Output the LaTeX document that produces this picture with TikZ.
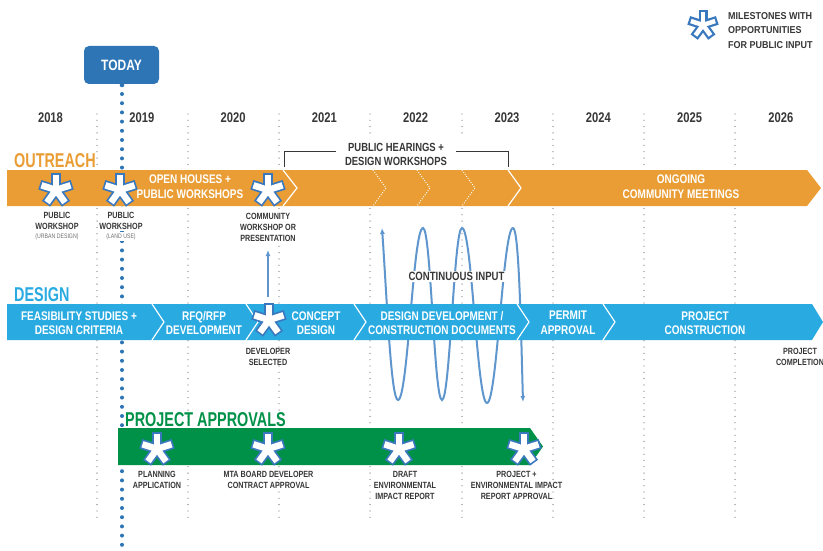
\documentclass[tikz,border=0pt]{standalone}
\usepackage{fontspec}
\newfontfamily\cond{Liberation Sans}[FakeStretch=0.8]
\newfontfamily\titlef{Liberation Sans}[FakeStretch=0.72]
\newfontfamily\legf{Liberation Sans}[FakeStretch=0.9]
\usetikzlibrary{arrows.meta}
\definecolor{orng}{RGB}{233,157,52}
\definecolor{dblue}{RGB}{41,171,226}
\definecolor{grn}{RGB}{0,145,72}
\definecolor{tblue}{RGB}{46,117,182}
\definecolor{ablue}{RGB}{58,120,190}
\definecolor{wblue}{RGB}{95,150,205}
\definecolor{txtgray}{RGB}{55,55,55}
\definecolor{subgray}{RGB}{110,110,110}
\definecolor{sepgray}{RGB}{125,125,125}
\tikzset{
  milestone/.pic={
    \foreach \a in {-90,-162,-234,-306,-18}{\draw[ablue,line width=10pt] (0,0) -- (\a:17);}
    \foreach \a in {-90,-162,-234,-306,-18}{\draw[white,line width=6.5pt] (0,0) -- (\a:15.3);}
  },
  milestonelegend/.pic={
    \foreach \a in {-90,-162,-234,-306,-18}{\draw[ablue,line width=9pt] (0,0) -- (\a:15);}
    \foreach \a in {-90,-162,-234,-306,-18}{\draw[white,line width=4.5pt] (0,0) -- (\a:12.8);}
  },
  sepline/.style={sepgray,line width=1.3pt,line cap=round,dash pattern=on 0pt off 6.3pt},
  todayline/.style={tblue,line width=4pt,line cap=round,dash pattern=on 0pt off 9.2pt},
  yr/.style={font=\cond\bfseries\fontsize{14}{14}\selectfont,text=txtgray,inner sep=0pt},
  sectitle/.style={font=\titlef\bfseries\fontsize{20}{20}\selectfont,anchor=west,inner sep=0pt},
  bartxt/.style={font=\cond\bfseries\fontsize{12.5}{14.5}\selectfont,text=white,align=center,inner sep=0pt},
  lbl/.style={font=\cond\bfseries\fontsize{9}{10.5}\selectfont,text=txtgray,align=center,inner sep=0pt},
  lblw/.style={lbl,font=\cond\bfseries\fontsize{9}{11}\selectfont},
  sublbl/.style={font=\cond\fontsize{6.5}{7}\selectfont,text=subgray,inner sep=0pt},
  chev/.style={white,line width=1.2pt},
  chevdot/.style={white,line width=0.9pt,dash pattern=on 1pt off 1.5pt},
  wave/.style={wblue,line width=2pt},
  bracket/.style={txtgray,line width=0.8pt},
}
\begin{document}
\begin{tikzpicture}[x=1pt,y=-1pt]
\useasboundingbox[fill=white] (0,0) rectangle (823,551);

% year separators
\foreach \x in {97,188,279,370,462,553,644,735}{
  \coordinate (st\x) at (\x,114);
  \coordinate (sb\x) at (\x,520);
  \draw[sepline] (st\x) -- (sb\x);
}

% today marker
\coordinate (tdtop) at (122,94);
\coordinate (tdbot) at (122,548);
\draw[todayline] (tdtop) -- (tdbot);
\fill[tblue] (122,85) circle (2.3);
\node[fill=tblue,rounded corners=5pt,minimum width=75pt,minimum height=38pt,inner sep=0pt,
      text=white,font=\cond\bfseries\fontsize{15}{15}\selectfont] (today) at (121.5,65) {TODAY};

% years
\foreach \yr [count=\i] in {2018,2019,2020,2021,2022,2023,2024,2025,2026}{
  \node[yr] (y\yr) at ({50.5+91.3*(\i-1)},118) {\yr};
}

% legend
\pic at (703,25) {milestonelegend};
\node[font=\legf\bfseries\fontsize{10}{14.5}\selectfont,text=txtgray,align=left,anchor=west,inner sep=0pt]
  (legend) at (728,30.5) {MILESTONES WITH\\OPPORTUNITIES\\FOR PUBLIC INPUT};

% section titles
\node[sectitle,text=orng] (outreach) at (14,160.5) {OUTREACH};
\node[sectitle,text=dblue] (design) at (14,295) {DESIGN};
\node[sectitle,text=grn] (approvals) at (125,419.5) {PROJECT APPROVALS};

% bracket public hearings
\fill[white] (282,137) rectangle (511,169);
\coordinate (bl) at (284,167);
\coordinate (blt) at (284,151);
\coordinate (brt) at (508,151);
\coordinate (br) at (508,167);
\draw[bracket] (bl) -- (blt) -- (brt) -- (br);
\node[font=\cond\bfseries\fontsize{11.8}{14}\selectfont,text=txtgray,align=center,fill=white,inner xsep=9pt,inner ysep=1pt]
  (hearings) at (396,154) {PUBLIC HEARINGS +\\DESIGN WORKSHOPS};

% continuous input wave
\coordinate (w0) at (382,228);
\coordinate (w1) at (398,400);
\coordinate (w2) at (423,228);
\coordinate (w3) at (442,400);
\coordinate (w4) at (462,228);
\coordinate (w5) at (487,403);
\coordinate (w6) at (513,228);
\coordinate (w7) at (523,402);
\draw[wave,{Latex[length=6pt,width=5pt]}-{Latex[length=6pt,width=5pt]}]
  (w0) .. controls (387,300) and (391,400) .. (w1)
       .. controls (408,400) and (413,228) .. (w2)
       .. controls (431,228) and (434,400) .. (w3)
       .. controls (450,400) and (454,228) .. (w4)
       .. controls (472,228) and (477,403) .. (w5)
       .. controls (497,403) and (503,228) .. (w6)
       .. controls (519,228) and (521,330) .. (w7);
\node[font=\cond\bfseries\fontsize{12}{12}\selectfont,text=txtgray,fill=white,inner sep=1pt]
  (continuous) at (456.5,276.5) {CONTINUOUS INPUT};

% up arrow
\coordinate (ua0) at (268,297);
\coordinate (ua1) at (268,250);
\draw[wave,-{Latex[length=6pt,width=5pt]}] (ua0) -- (ua1);

% outreach bar
\fill[orng] (7,170) -- (807,170) -- (821,188) -- (807,206) -- (7,206) -- cycle;
\draw[chev] (283,170) -- (297,188) -- (283,206);
\foreach \c in {373,417,462}{\draw[chevdot] (\c,170) -- (\c+13,188) -- (\c,206);}
\draw[chev] (508,170) -- (521,188) -- (508,206);
\node[bartxt] (openhouses) at (190,186.5) {OPEN HOUSES +\\PUBLIC WORKSHOPS};
\node[bartxt] (ongoing) at (681,186.5) {ONGOING\\COMMUNITY MEETINGS};
\pic at (56,190) {milestone};
\pic at (120,190) {milestone};
\pic at (268,190) {milestone};

% outreach labels
\node[lbl] (pw1) at (57,221) {PUBLIC\\WORKSHOP};
\node[sublbl] (pw1s) at (57,236.5) {(URBAN DESIGN)};
\node[lbl,fill=white,inner sep=1.5pt] (pw2) at (121,221) {PUBLIC\\WORKSHOP};
\node[sublbl,fill=white,inner sep=1.5pt] (pw2s) at (121,236.5) {(LAND USE)};
\node[lblw,fill=white,inner sep=1.5pt] (cw) at (268,227) {COMMUNITY\\WORKSHOP OR\\PRESENTATION};

% design bar
\fill[dblue] (7,304) -- (812,304) -- (823,322) -- (812,340) -- (7,340) -- cycle;
\foreach \c in {152,246,354,517,603}{\draw[chev] (\c,304) -- (\c+12,322) -- (\c,340);}
\node[bartxt] (feas) at (79,323) {FEASIBILITY STUDIES +\\DESIGN CRITERIA};
\node[bartxt] (rfq) at (204,323) {RFQ/RFP\\DEVELOPMENT};
\node[bartxt] (concept) at (316,323) {CONCEPT\\DESIGN};
\node[bartxt] (dd) at (442,323) {DESIGN DEVELOPMENT /\\CONSTRUCTION DOCUMENTS};
\node[bartxt] (permit) at (568,323) {PERMIT\\APPROVAL};
\node[bartxt] (constr) at (705,323) {PROJECT\\CONSTRUCTION};
\pic at (269,320) {milestone};
\node[lblw] (devsel) at (268,356.5) {DEVELOPER\\SELECTED};
\node[lblw] (complete) at (800,357) {PROJECT\\COMPLETION};

% approvals bar
\fill[grn] (118,428) -- (530,428) -- (543,446.5) -- (530,465) -- (118,465) -- cycle;
\pic at (157,449) {milestone};
\pic at (268,449) {milestone};
\pic at (399,449) {milestone};
\pic at (524,449) {milestone};
\node[lblw] (planning) at (157,479.5) {PLANNING\\APPLICATION};
\node[lblw] (mta) at (268.5,479.5) {MTA BOARD DEVELOPER\\CONTRACT APPROVAL};
\node[lblw] (deir) at (405,485) {DRAFT\\ENVIRONMENTAL\\IMPACT REPORT};
\node[lblw] (feir) at (516.5,485) {PROJECT +\\ENVIRONMENTAL IMPACT\\REPORT APPROVAL};
\end{tikzpicture}
\end{document}
